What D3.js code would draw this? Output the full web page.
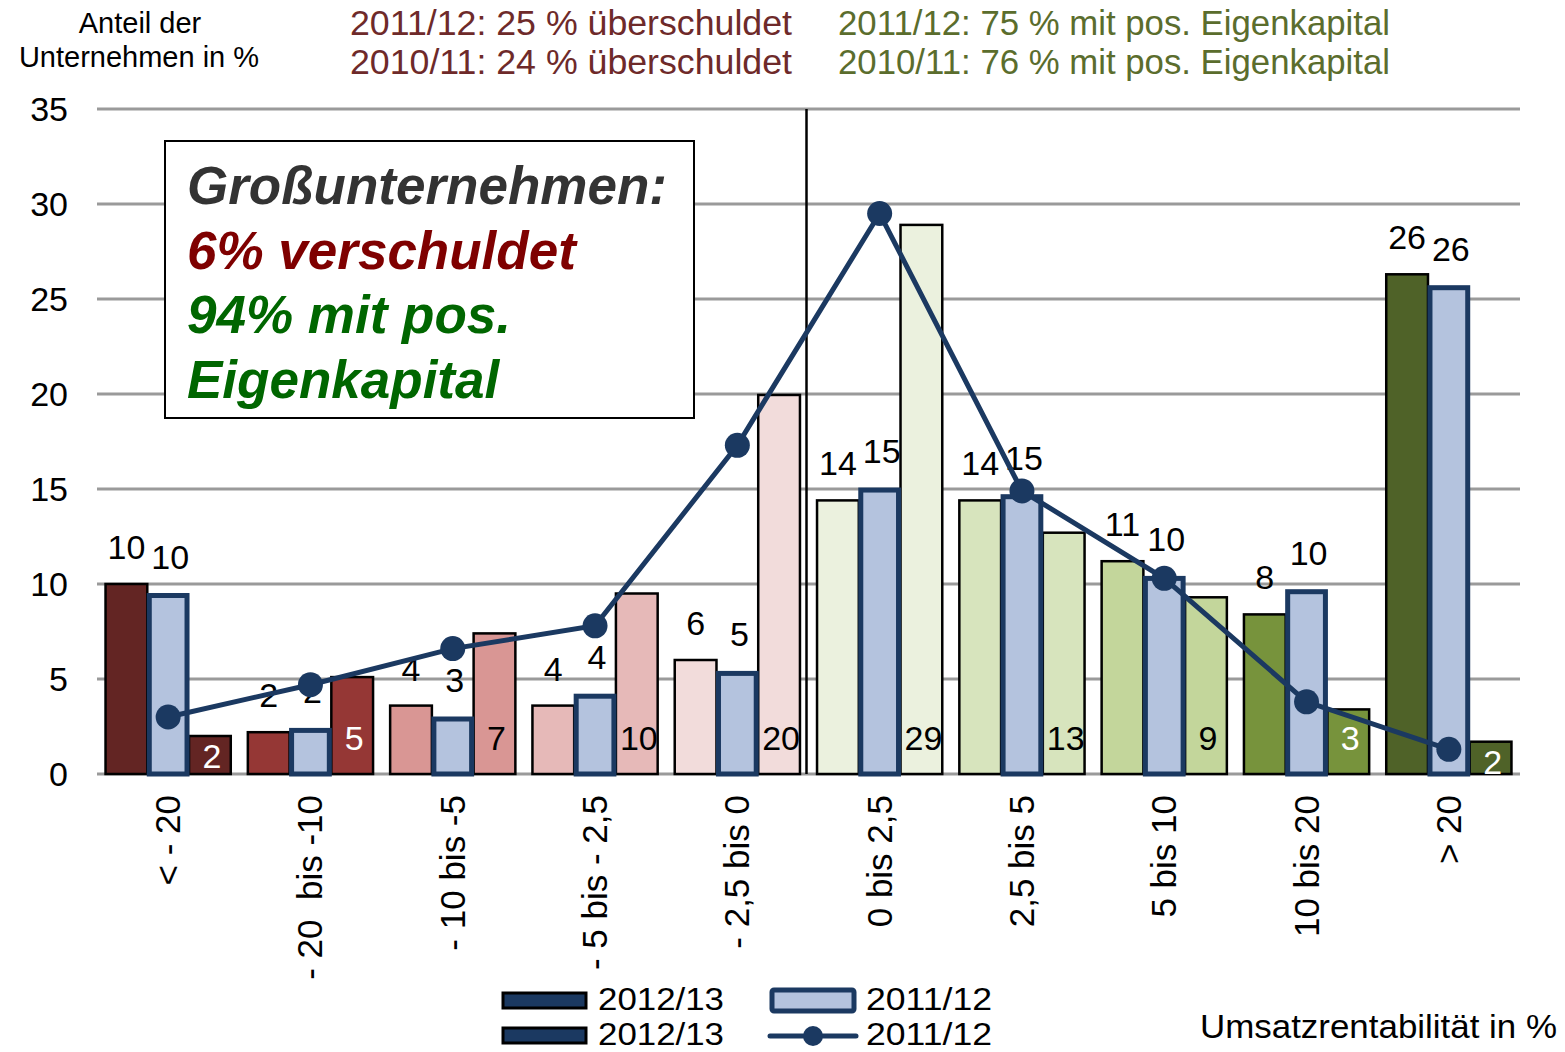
<!DOCTYPE html>
<html><head><meta charset="utf-8">
<script src="https://cdn.jsdelivr.net/npm/d3@7"></script>
<style>
html,body{margin:0;padding:0;background:#fff;}
text{font-family:"Liberation Sans",Arial,sans-serif;white-space:pre;}
</style></head>
<body><svg id="c" width="1565" height="1052"></svg>
<script>
const categories = ["< - 20","- 20  bis -10","- 10 bis -5","- 5 bis - 2,5","- 2,5 bis 0","0 bis 2,5","2,5 bis 5","5 bis 10","10 bis 20","> 20"];
const bar2012a = [10.0,2.2,3.6,3.6,6.0,14.4,14.4,11.2,8.4,26.3];
const bar2011 = [9.5,2.4,3.0,4.2,5.4,15.05,14.7,10.4,9.7,25.7];
const bar2012b = [2.0,5.1,7.4,9.5,19.95,28.9,12.7,9.3,3.4,1.7];
const line2011 = [3.0,4.7,6.6,7.8,17.3,29.5,14.9,10.3,3.8,1.3];
const catColors = ["#632523","#953735","#d99694","#e6b9b8","#f2dcdb","#ebf1de","#d7e4bd","#c3d69b","#77933c","#4f6228"];
const innerLabelColors = ["#fff","#fff","#000","#000","#000","#000","#000","#000","#fff","#fff"];
const yTicks = [0,5,10,15,20,25,30,35];
const headerRed = ["2011/12: 25 % überschuldet","2010/11: 24 % überschuldet"];
const headerGreen = ["2011/12: 75 % mit pos. Eigenkapital","2010/11: 76 % mit pos. Eigenkapital"];
const boxLines = [["Großunternehmen:","#333333"],["6% verschuldet","#7f0000"],["94% mit pos.","#006600"],["Eigenkapital","#006600"]];
const legendItems = ["2012/13","2011/12","2012/13","2011/12"];

const NAVY = "#1b3961", LIGHT = "#b4c3de";
const svg = d3.select("#c");
const L = 97, R = 1520, T = 109, B = 774;
const x = d3.scaleBand().domain(categories).range([L,R]).paddingInner(0.12).paddingOuter(0.06);
const xs = d3.scaleBand().domain([0,1,2]).range([0,x.bandwidth()]);
const y = d3.scaleLinear().domain([0,35]).range([B,T]);

// gridlines
svg.append("g").selectAll("line").data(yTicks).join("line")
  .attr("x1",L).attr("x2",R).attr("y1",d=>y(d)).attr("y2",d=>y(d))
  .attr("stroke","#9a9a9a").attr("stroke-width",3);
// y tick labels
svg.append("g").selectAll("text").data(yTicks).join("text")
  .attr("x",68).attr("y",d=>y(d)).attr("dy","0.36em").attr("text-anchor","end")
  .attr("font-size",34).text(d=>d);

// bars
const g = svg.append("g");
const idx = d3.range(categories.length);
g.selectAll(".b0").data(idx).join("rect")
  .attr("x",i=>x(categories[i])+xs(0)).attr("width",xs.bandwidth())
  .attr("y",i=>y(bar2012a[i])).attr("height",i=>B-y(bar2012a[i]))
  .attr("fill",i=>catColors[i]).attr("stroke","#000").attr("stroke-width",2.5);
g.selectAll(".b2").data(idx).join("rect")
  .attr("x",i=>x(categories[i])+xs(2)).attr("width",xs.bandwidth())
  .attr("y",i=>y(bar2012b[i])).attr("height",i=>B-y(bar2012b[i]))
  .attr("fill",i=>catColors[i]).attr("stroke","#000").attr("stroke-width",2.5);
g.selectAll(".b1").data(idx).join("rect")
  .attr("x",i=>x(categories[i])+xs(1)+2).attr("width",xs.bandwidth()-4)
  .attr("y",i=>y(bar2011[i])+2).attr("height",i=>B-y(bar2011[i])-2)
  .attr("fill",LIGHT).attr("stroke",NAVY).attr("stroke-width",5);

// separator
const sepX = x(categories[5]) - x.step()*x.paddingInner()/2 - 2;
svg.append("line").attr("x1",sepX).attr("x2",sepX).attr("y1",y(35)).attr("y2",B)
  .attr("stroke","#000").attr("stroke-width",2.5);

// value labels
const lab = svg.append("g").attr("font-size",34).attr("text-anchor","middle");
lab.selectAll(".l0").data(idx).join("text")
  .attr("x",i=>x(categories[i])+xs(0)+xs.bandwidth()/2).attr("y",i=>y(bar2012a[i])-25)
  .text(i=>Math.round(bar2012a[i]));
lab.selectAll(".l1").data(idx).join("text")
  .attr("x",i=>x(categories[i])+xs(1)+xs.bandwidth()/2+2).attr("y",i=>y(bar2011[i])-25)
  .text(i=>Math.round(bar2011[i]));
svg.append("clipPath").attr("id","pc").append("rect").attr("x",L).attr("y",0).attr("width",R-L).attr("height",B);
svg.append("g").attr("clip-path","url(#pc)").attr("font-size",34).attr("text-anchor","middle")
  .selectAll("text").data(idx).join("text")
  .attr("x",i=>x(categories[i])+xs(2)+xs.bandwidth()/2+2).attr("y",i=>Math.max(750,y(bar2012b[i])+32))
  .attr("fill",i=>innerLabelColors[i]).text(i=>Math.round(bar2012b[i]));

// line
const cx = i=>x(categories[i])+xs(1)+xs.bandwidth()/2;
svg.append("path").datum(idx)
  .attr("d",d3.line().x(i=>cx(i)).y(i=>y(line2011[i])))
  .attr("fill","none").attr("stroke",NAVY).attr("stroke-width",5);
svg.append("g").selectAll("circle").data(idx).join("circle")
  .attr("cx",cx).attr("cy",i=>y(line2011[i])).attr("r",12.5).attr("fill",NAVY);

// x labels
svg.append("g").selectAll("text").data(categories).join("text")
  .attr("transform",d=>`translate(${x(d)+x.bandwidth()/2+12},795) rotate(-90)`)
  .attr("text-anchor","end").attr("font-size",35).text(d=>d);

// header
svg.append("text").attr("x",140).attr("y",33).attr("text-anchor","middle").attr("font-size",29).text("Anteil der");
svg.append("text").attr("x",139).attr("y",67).attr("text-anchor","middle").attr("font-size",29).text("Unternehmen in %");
svg.append("g").selectAll("text").data(headerRed).join("text")
  .attr("x",350).attr("y",(d,i)=>35+i*39).attr("font-size",35).attr("fill","#6e2a2a")
  .attr("textLength",442).attr("lengthAdjust","spacingAndGlyphs").text(d=>d);
svg.append("g").selectAll("text").data(headerGreen).join("text")
  .attr("x",838).attr("y",(d,i)=>35+i*39).attr("font-size",35).attr("fill","#5b6d2d")
  .attr("textLength",552).attr("lengthAdjust","spacingAndGlyphs").text(d=>d);

// annotation box
svg.append("rect").attr("x",165).attr("y",141).attr("width",529).attr("height",277)
  .attr("fill","#fff").attr("stroke","#000").attr("stroke-width",2);
svg.append("g").selectAll("text").data(boxLines).join("text")
  .attr("x",187).attr("y",(d,i)=>204+i*64.5).attr("font-size",53).attr("font-weight","bold")
  .attr("font-style","italic").attr("fill",d=>d[1]).text(d=>d[0]);

// legend
const lg = svg.append("g");
lg.append("rect").attr("x",503).attr("y",993).attr("width",83).attr("height",15).attr("fill",NAVY).attr("stroke","#000").attr("stroke-width",3);
lg.append("rect").attr("x",503).attr("y",1028).attr("width",83).attr("height",15).attr("fill",NAVY).attr("stroke","#000").attr("stroke-width",3);
lg.append("rect").attr("x",772).attr("y",990).attr("width",82).attr("height",21).attr("rx",2).attr("fill",LIGHT).attr("stroke",NAVY).attr("stroke-width",5);
lg.append("line").attr("x1",770).attr("x2",856).attr("y1",1036).attr("y2",1036).attr("stroke",NAVY).attr("stroke-width",5).attr("stroke-linecap","round");
lg.append("circle").attr("cx",813).attr("cy",1036).attr("r",10).attr("fill",NAVY);
lg.selectAll("text").data(legendItems).join("text")
  .attr("x",(d,i)=>i%2===0?598:866).attr("y",(d,i)=>i<2?1010:1045)
  .attr("font-size",32).attr("textLength",126).attr("lengthAdjust","spacingAndGlyphs").text(d=>d);

svg.append("text").attr("x",1557).attr("y",1038).attr("text-anchor","end").attr("font-size",33)
  .attr("textLength",357).attr("lengthAdjust","spacingAndGlyphs").text("Umsatzrentabilität in %");
</script></body></html>
